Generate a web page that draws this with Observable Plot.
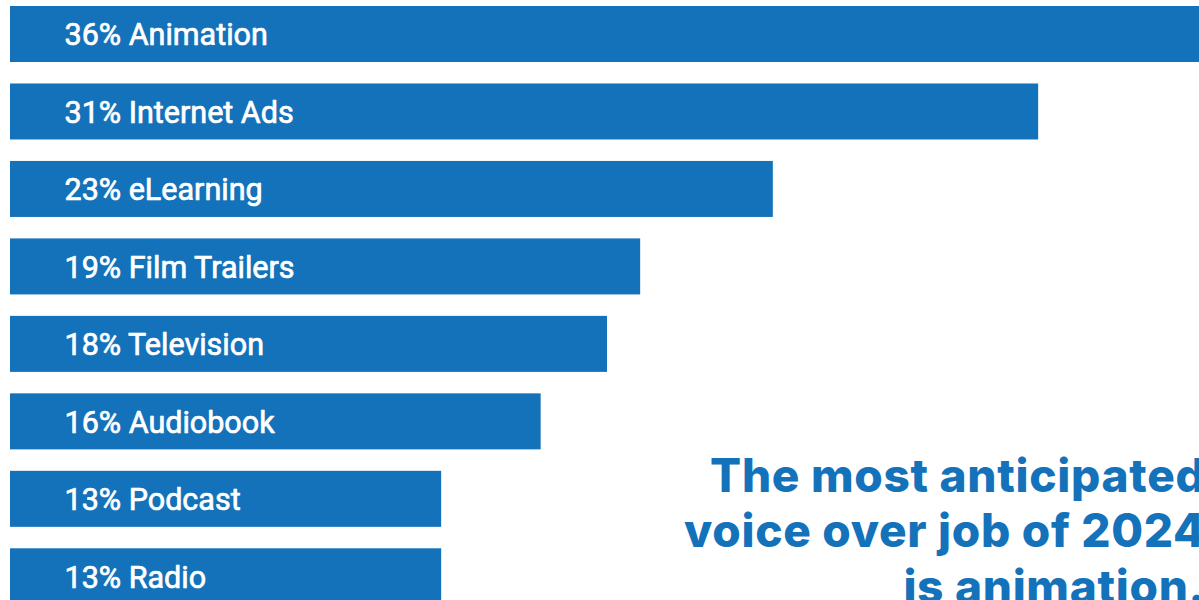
<!DOCTYPE html>
<html>
<head>
<meta charset="utf-8">
<script src="https://cdn.jsdelivr.net/npm/d3@7"></script>
<script src="https://cdn.jsdelivr.net/npm/@observablehq/plot@0.6"></script>
<style>
  html, body { margin: 0; padding: 0; background: #ffffff; overflow: hidden; }
  #chart svg { display: block; }
  #chart .headline text { letter-spacing: 0.7px; }
</style>
</head>
<body>
<div id="chart"></div>
<script>
const categories = ["Animation", "Internet Ads", "eLearning", "Film Trailers", "Television", "Audiobook", "Podcast", "Radio"];
const percents = [36, 31, 23, 19, 18, 16, 13, 13];
const titleLines = ["The most anticipated", "voice over job of 2024", "is animation."];

const data = categories.map((c, i) => ({category: c, value: percents[i], label: `${percents[i]}% ${c}`}));
const blue = "#1472BA";

const chart = Plot.plot({
  width: 1199,
  height: 600,
  marginLeft: 0,
  marginRight: 0,
  marginTop: 0,
  marginBottom: 0,
  x: {domain: [0, 36], range: [10, 1204], axis: null},
  y: {domain: categories, range: [6, 604.3], paddingInner: 0.277, paddingOuter: 0, round: false, axis: null},
  style: {background: "#ffffff", overflow: "hidden"},
  marks: [
    Plot.barX(data, {x: "value", y: "category", fill: blue}),
    Plot.text(data, {
      x: 0, y: "category", text: "label", textAnchor: "start", dx: 54, dy: 1,
      fill: "#ffffff", stroke: "#ffffff", strokeWidth: 0.7,
      fontSize: 30.5, fontWeight: 400, fontFamily: "Roboto"
    }),
    Plot.text([titleLines.join("\n")], {
      frameAnchor: "bottom-right", text: d => d, textAnchor: "end",
      lineHeight: 1.2, dx: 6, dy: 2, className: "headline",
      fill: blue, fontSize: 46, fontWeight: 800, fontFamily: "Inter"
    })
  ]
});
document.getElementById("chart").appendChild(chart);
</script>
</body>
</html>
